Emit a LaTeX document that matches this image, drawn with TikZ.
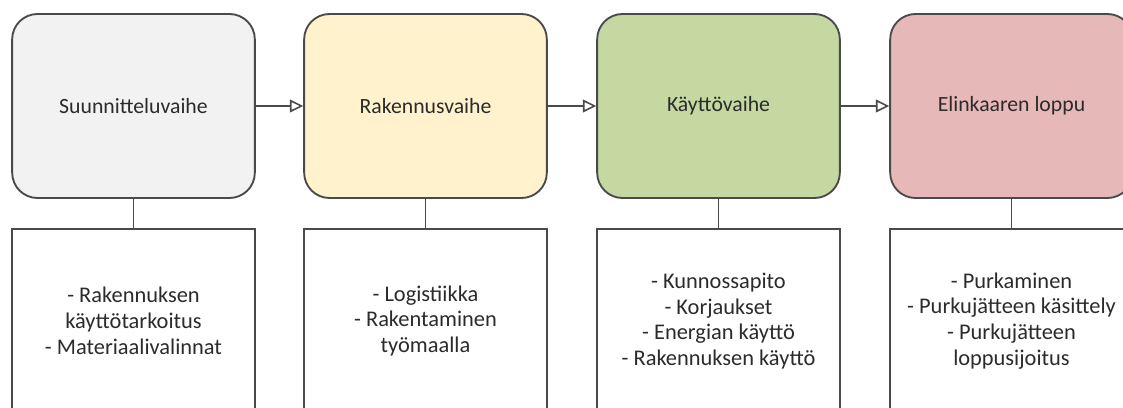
\documentclass[tikz,border=0pt]{standalone}
\usepackage{fontspec}
\setmainfont{Carlito}
\usetikzlibrary{arrows.meta}
\definecolor{edge}{HTML}{4A4A4A}
\definecolor{txt}{HTML}{2B2B2B}
\definecolor{cA}{HTML}{F2F2F2}
\definecolor{cB}{HTML}{FFF2CC}
\definecolor{cC}{HTML}{C5D8A1}
\definecolor{cD}{HTML}{E6B8B7}
\tikzset{
  phase/.style={draw=edge, line width=1.4pt, rounded corners=19pt, minimum width=182pt, minimum height=138pt, inner sep=0pt, font=\fontsize{16.3}{19.3}\selectfont, text=txt},
  detail/.style={draw=edge, line width=1.4pt, minimum width=182pt, minimum height=138pt, inner sep=0pt, align=center, font=\fontsize{16.8}{19.3}\selectfont, text=txt},
  flow/.style={draw=edge, line width=1.4pt, -{Triangle[open, length=10pt, width=9.5pt, line width=1.2pt]}},
  link/.style={draw=edge, line width=1.4pt}
}
\begin{document}
\begin{tikzpicture}[x=0.75pt, y=-0.75pt]
\clip (0,0) rectangle (1123,407);
\fill[white] (0,0) rectangle (1123,407);
\node[phase, fill=cA] (p1) at (133.5,106) {Suunnitteluvaihe};
\node[phase, fill=cB] (p2) at (425.5,106) {Rakennusvaihe};
\node[phase, fill=cC] (p3) at (718.5,106) {Käyttövaihe};
\node[phase, fill=cD] (p4) at (1011.5,106) {Elinkaaren loppu};
\node[detail] (d1) at (133.5,321) {- Rakennuksen\\käyttötarkoitus\\- Materiaalivalinnat};
\node[detail] (d2) at (425.5,321) {- Logistiikka\\- Rakentaminen\\työmaalla};
\node[detail] (d3) at (718.5,321) {- Kunnossapito\\- Korjaukset\\- Energian käyttö\\- Rakennuksen käyttö};
\node[detail] (d4) at (1011.5,321) {- Purkaminen\\- Purkujätteen käsittely\\- Purkujätteen\\loppusijoitus};
\draw[flow] (p1) -- (p2);
\draw[flow] (p2) -- (p3);
\draw[flow] (p3) -- (p4);
\draw[link] (p1) -- (d1);
\draw[link] (p2) -- (d2);
\draw[link] (p3) -- (d3);
\draw[link] (p4) -- (d4);
\end{tikzpicture}
\end{document}
